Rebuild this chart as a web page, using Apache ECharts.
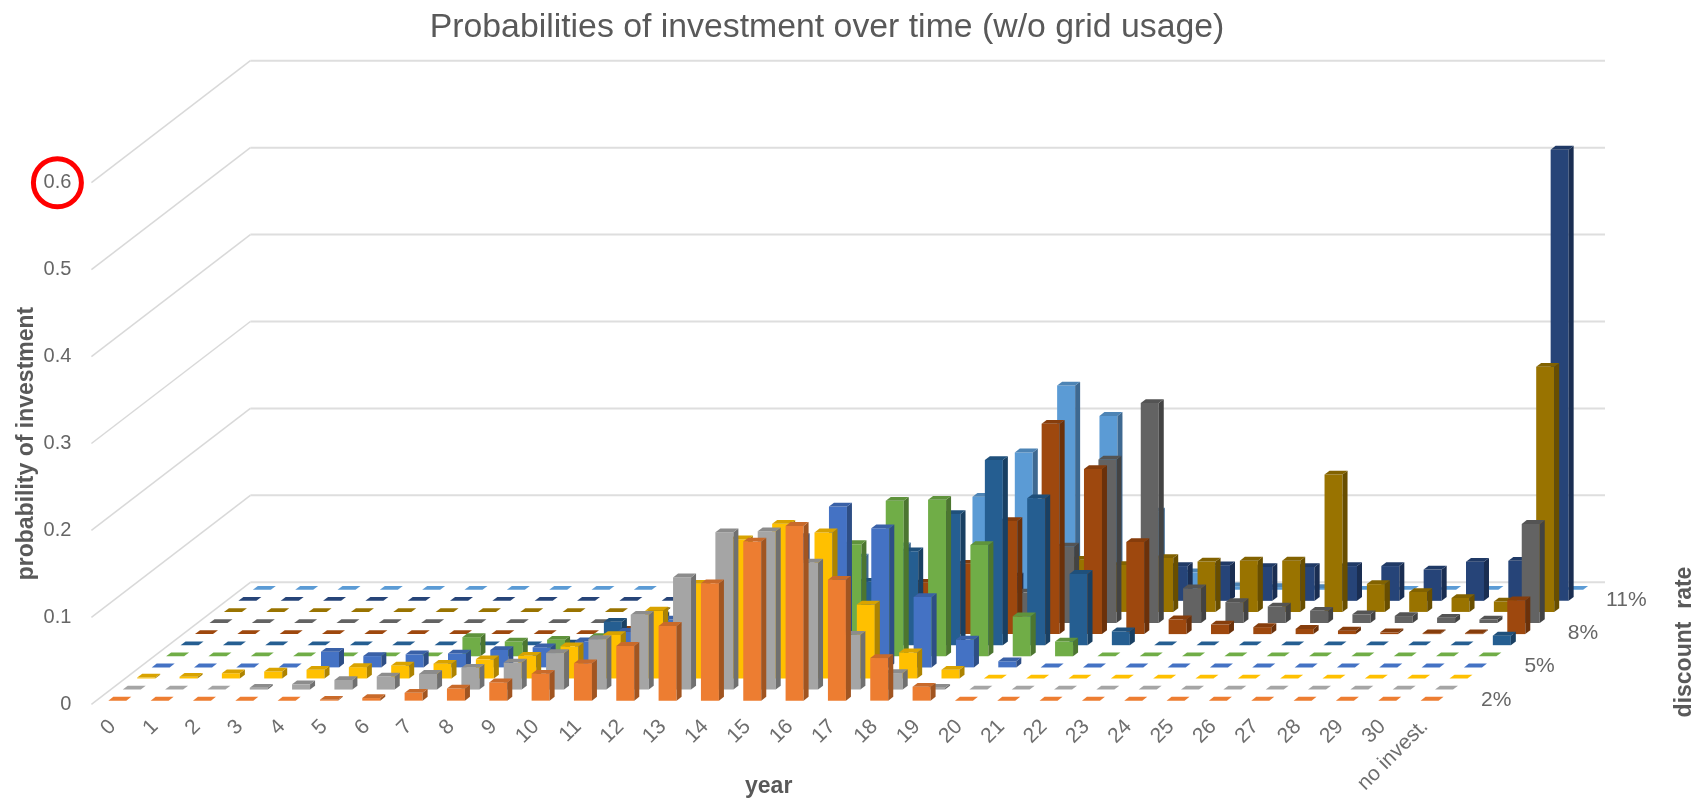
<!DOCTYPE html>
<html>
<head>
<meta charset="utf-8">
<title>Probabilities of investment over time</title>
<style>html,body{margin:0;padding:0;background:#fff}#chart{width:1707px;height:799px}</style>
<script src="https://cdn.jsdelivr.net/npm/echarts@6/dist/echarts.min.js"></script>
</head>
<body>
<div id="chart"></div>
<script>
// Categories
const years = ['0','1','2','3','4','5','6','7','8','9','10','11','12','13','14','15','16','17','18','19','20','21','22','23','24','25','26','27','28','29','30','no invest.'];
const rates = ['2%','3%','4%','5%','6%','7%','8%','9%','10%','11%','12%'];
const labelledRates = ['2%','5%','8%','11%'];
const probabilityTicks = [0,0.1,0.2,0.3,0.4,0.5,0.6];

// Probability of investing in each year, one list per discount rate
const rate2  = [0,0,0,0,0,.001,.003,.009,.014,.021,.031,.043,.063,.086,.135,.183,.201,.139,.049,.016,0,0,0,0,0,0,0,0,0,0,0,0];
const rate3  = [0,0,0,.002,.006,.011,.015,.018,.025,.031,.042,.058,.086,.129,.181,.182,.146,.063,.019,.002,0,0,0,0,0,0,0,0,0,0,0,0];
const rate4  = [.001,.002,.006,.008,.010,.013,.015,.017,.022,.026,.037,.050,.078,.109,.160,.178,.168,.085,.030,.010,0,0,0,0,0,0,0,0,0,0,0,0];
const rate5  = [0,0,0,0,.018,.013,.015,.016,.020,.023,.030,.041,.055,.085,.120,.150,.185,.160,.081,.032,.007,0,0,0,0,0,0,0,0,0,0,0];
const rate6  = [0,0,0,0,0,0,0,.022,.017,.019,.022,.028,.035,.050,.075,.095,.129,.179,.180,.128,.046,.017,0,0,0,0,0,0,0,0,0,0];
const rate7  = [0,0,0,0,0,0,0,0,0,.002,.027,.034,.040,.050,.060,.070,.073,.108,.151,.213,.169,.082,.016,0,0,0,0,0,0,0,0,.011];
const rate8  = [0,0,0,0,0,0,0,0,0,0,.005,.007,.010,.015,.020,.030,.042,.059,.081,.130,.242,.190,.106,.017,.011,.008,.006,.004,.002,.001,.001,.039];
const rate9  = [0,0,0,0,0,0,0,0,0,0,.001,.003,.005,.008,.010,.014,.018,.025,.030,.035,.088,.188,.253,.040,.024,.019,.014,.010,.008,.006,.004,.114];
const rate10 = [0,0,0,0,0,0,0,0,0,0,.001,.002,.003,.004,.006,.010,.014,.020,.028,.038,.060,.054,.062,.058,.059,.059,.158,.032,.023,.016,.012,.282];
const rate11 = [0,0,0,0,0,0,0,0,0,0,0,.002,.004,.006,.008,.012,.016,.020,.028,.035,.040,.040,.040,.041,.039,.039,.040,.040,.036,.045,.046,.519];
const rate12 = [0,0,0,0,0,0,0,0,0,0,.001,.004,.010,.020,.037,.050,.070,.107,.158,.235,.200,.090,.020,.004,.003,.002,0,0,0,0,0,0];

const rowValues = [rate2,rate3,rate4,rate5,rate6,rate7,rate8,rate9,rate10,rate11,rate12];
const rowColors = ['#ED7D31','#A5A5A5','#FFC000','#4472C4','#70AD47','#255E91','#9E480E','#636363','#997300','#264478','#5B9BD5'];

// Oblique projection of the floor: how far the back wall is shifted from the front plane
const FLOOR_DX = 159, FLOOR_DY = 122;
const ROW_DX = FLOOR_DX / rates.length, ROW_DY = FLOOR_DY / rates.length;
const BAR_W = 18, BAR_DX = 5, BAR_DY = 3.8;
const FONT = '"Liberation Sans", Arial, sans-serif';

function shade(hex, k) {
  const n = parseInt(hex.slice(1), 16);
  const c = [n >> 16, (n >> 8) & 255, n & 255].map(v => Math.round(v * k));
  return 'rgb(' + c.join(',') + ')';
}

// One row of 3D columns; rows are painted from the back to the front
function barSeries(row) {
  const color = rowColors[row];
  const topColor = shade(color, 0.85), sideColor = shade(color, 0.68);
  return {
    type: 'custom',
    name: rates[row],
    coordinateSystem: 'cartesian2d',
    z: 3,
    silent: true,
    data: rowValues[row].map((v, i) => [i, v]),
    renderItem(params, api) {
      const base = api.coord([api.value(0), 0]);
      const peak = api.coord([api.value(0), api.value(1)]);
      const h = base[1] - peak[1];
      const l = base[0] + (row + 0.5) * ROW_DX - BAR_W / 2 - BAR_DX / 2;
      const b = base[1] - (row + 0.5) * ROW_DY + BAR_DY / 2;
      const r = l + BAR_W, t = b - h;
      const poly = (points, fill) => ({ type: 'polygon', shape: { points }, style: { fill } });
      const children = [];
      if (h > 0) {
        children.push(poly([[l, b], [r, b], [r, t], [l, t]], color));
        children.push(poly([[r, b], [r + BAR_DX, b - BAR_DY], [r + BAR_DX, t - BAR_DY], [r, t]], sideColor));
      }
      children.push(poly([[l, t], [r, t], [r + BAR_DX, t - BAR_DY], [l + BAR_DX, t - BAR_DY]], h > 0 ? topColor : color));
      return { type: 'group', children };
    }
  };
}

// Gridlines: one slanted stroke on the side wall and one level stroke on the back wall per tick
const wallSeries = {
  type: 'custom',
  coordinateSystem: 'cartesian2d',
  z: 1,
  silent: true,
  data: probabilityTicks.map(v => [0, v]),
  renderItem(params, api) {
    const band = api.size([1, 0])[0];
    const p = api.coord([0, api.value(1)]);
    const x0 = p[0] - band / 2, y0 = p[1];
    const xb = x0 + FLOOR_DX, yb = y0 - FLOOR_DY;
    const xe = xb + band * years.length;
    return {
      type: 'group',
      children: [
        { type: 'line', shape: { x1: x0, y1: y0, x2: xb, y2: yb }, style: { stroke: '#D9D9D9', lineWidth: 1.5 } },
        { type: 'line', shape: { x1: xb, y1: yb, x2: xe, y2: yb }, style: { stroke: '#DEDEDE', lineWidth: 2 } }
      ]
    };
  }
};

// Discount rate labels along the right edge of the floor
const rateLabelSeries = {
  type: 'custom',
  coordinateSystem: 'cartesian2d',
  z: 4,
  silent: true,
  data: labelledRates.map(label => [years.length - 1, 0, rates.indexOf(label)]),
  renderItem(params, api) {
    const band = api.size([1, 0])[0];
    const p = api.coord([api.value(0), 0]);
    const row = api.value(2);
    return {
      type: 'text',
      style: {
        x: p[0] + band / 2 + (row + 0.5) * ROW_DX + 43,
        y: p[1] - (row + 0.5) * ROW_DY + 1,
        text: rates[row],
        fill: '#666666',
        font: '21px ' + FONT,
        align: 'center',
        verticalAlign: 'middle'
      }
    };
  }
};

// Ring around the top tick label
const ringSeries = {
  type: 'custom',
  coordinateSystem: 'cartesian2d',
  z: 5,
  silent: true,
  data: [[0, 0.6]],
  renderItem(params, api) {
    const band = api.size([1, 0])[0];
    const p = api.coord([0, api.value(1)]);
    return {
      type: 'circle',
      shape: { cx: p[0] - band / 2 - 34, cy: p[1], r: 24 },
      style: { fill: 'none', stroke: '#FF0000', lineWidth: 5 }
    };
  }
};

const chart = echarts.init(document.getElementById('chart'), null, { renderer: 'canvas' });
chart.setOption({
  animation: false,
  backgroundColor: '#fff',
  title: {
    text: 'Probabilities of investment over time (w/o grid usage)',
    left: 822,
    top: 6,
    textAlign: 'center',
    textStyle: { fontFamily: FONT, fontSize: 33.8, fontWeight: 'normal', color: '#595959' }
  },
  grid: { left: 91.4, top: 182.7, width: 1354.6, height: 521.6, containLabel: false, outerBoundsMode: 'none' },
  xAxis: {
    type: 'category',
    data: years,
    name: 'year',
    nameLocation: 'middle',
    nameGap: 71,
    nameMoveOverlap: false,
    nameTextStyle: { fontFamily: FONT, fontSize: 23, fontWeight: 'bold', color: '#595959' },
    axisLine: { show: false },
    axisTick: { show: false },
    splitLine: { show: false },
    axisLabel: { rotate: 45, interval: 0, margin: 19, fontFamily: FONT, fontSize: 21, color: '#6E6E6E' }
  },
  yAxis: {
    type: 'value',
    min: 0,
    max: 0.6,
    interval: 0.1,
    name: 'probability of investment',
    nameLocation: 'middle',
    nameGap: 53,
    nameMoveOverlap: false,
    nameRotate: 90,
    nameTextStyle: { fontFamily: FONT, fontSize: 23, fontWeight: 'bold', color: '#595959' },
    axisLine: { show: false },
    axisTick: { show: false },
    splitLine: { show: false },
    axisLabel: { margin: 20, fontFamily: FONT, fontSize: 20, color: '#666666' }
  },
  graphic: [{
    type: 'text',
    x: 1685,
    y: 642,
    rotation: Math.PI / 2,
    style: {
      text: 'discount  rate',
      fill: '#595959',
      font: 'bold 23px ' + FONT,
      align: 'center',
      verticalAlign: 'middle'
    }
  }],
  series: [wallSeries]
    .concat(rates.map((_, r) => barSeries(rates.length - 1 - r)))
    .concat([rateLabelSeries, ringSeries])
});
</script>
</body>
</html>
